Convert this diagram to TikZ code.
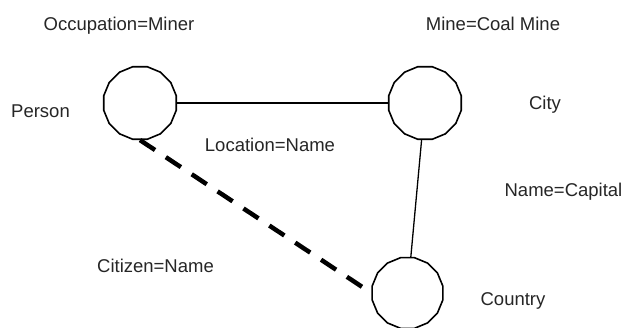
\documentclass[tikz,border=0pt]{standalone}
\usepackage{fontspec}
\setmainfont{Liberation Sans}
\usetikzlibrary{shapes.geometric}
\begin{document}
\begin{tikzpicture}[x=1pt,y=-1pt,
  entity/.style={draw=black, line width=1.6pt, regular polygon, regular polygon sides=16,
    minimum size=74pt, inner sep=0pt},
  lbl/.style={anchor=base, font=\fontsize{18.5}{22}\selectfont, text=black!85, inner sep=0pt},
  link/.style={line width=1.3pt},
  dlink/.style={line width=4.5pt, dash pattern=on 18pt off 13pt}]
\useasboundingbox[fill=white] (0,0) rectangle (626,327);

% entities
\node[entity] (person)  at (140,103) {};
\node[entity] (city)    at (425,103) {};
\node[entity, minimum size=72pt] (country) at (407.5,293) {};

% relationships
\draw[link] (person) -- (city);
\draw[link] (city) -- (country);
\draw[dlink] (person.south) -- (country.west);

% labels
\node[lbl] (occ)   at (119,30)    {Occupation=Miner};
\node[lbl] (mine)  at (493,30)    {Mine=Coal Mine};
\node[lbl] (lperson) at (40.5,117) {Person};
\node[lbl] (lcity)   at (545,109)  {City};
\node[lbl] (loc)   at (270,151)   {Location=Name};
\node[lbl] (cap)   at (563.5,196) {Name=Capital};
\node[lbl] (cit)   at (155.5,272) {Citizen=Name};
\node[lbl] (lcountry) at (513,305) {Country};
\end{tikzpicture}
\end{document}
